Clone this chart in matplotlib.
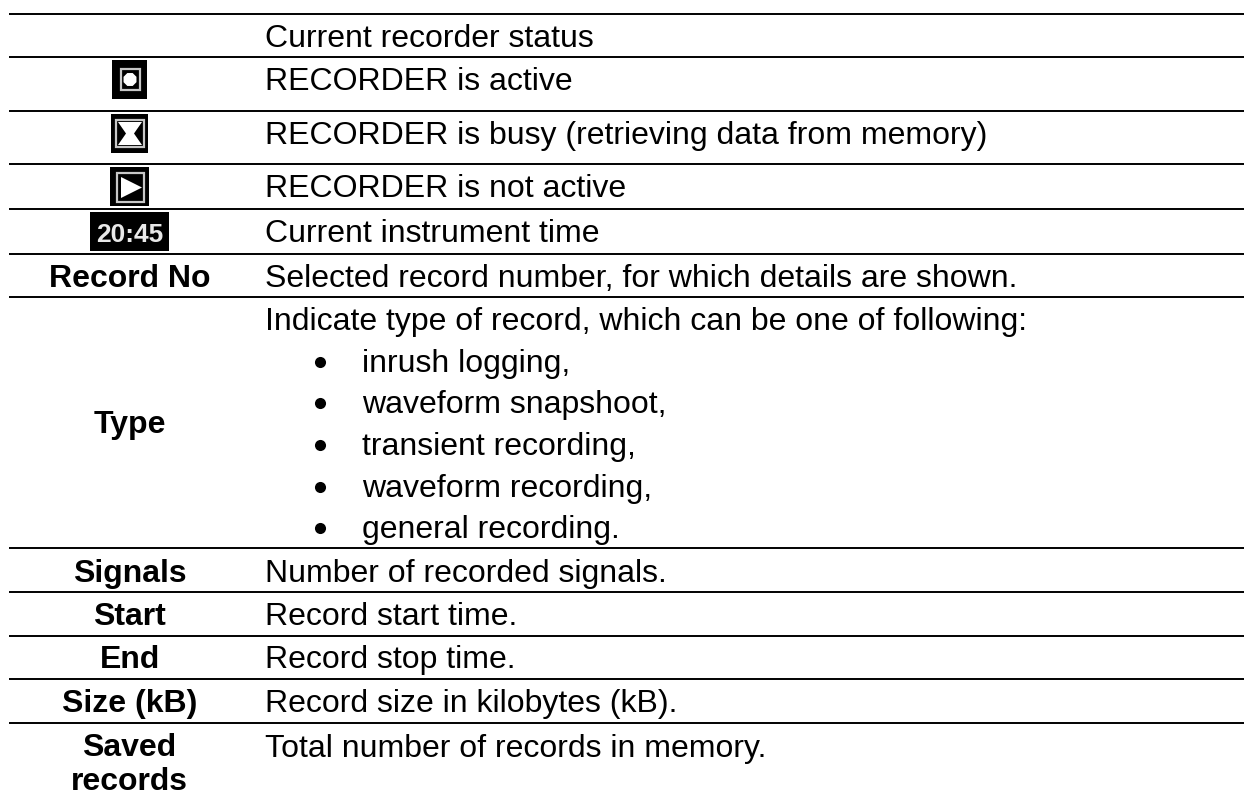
#!/usr/bin/env python3
# -*- coding: utf-8 -*-

import matplotlib
matplotlib.use('Agg')
import matplotlib.pyplot as plt
from matplotlib.patches import Rectangle, Polygon, RegularPolygon

# table content
row_labels = ['', '', '', '', '', 'Record No', 'Type', 'Signals', 'Start', 'End', 'Size (kB)', 'Saved\nrecords']
row_texts = ['Current recorder status',
             'RECORDER is active',
             'RECORDER is busy (retrieving data from memory)',
             'RECORDER is not active',
             'Current instrument time',
             'Selected record number, for which details are shown.',
             'Indicate type of record, which can be one of following:',
             'Number of recorded signals.',
             'Record start time.',
             'Record stop time.',
             'Record size in kilobytes (kB).',
             'Total number of records in memory.']
type_items = ['inrush logging,', 'waveform snapshoot,', 'transient recording,', 'waveform recording,', 'general recording.']
clock_text = '20:45'

# layout, in pixels of the picture
rule_ys = [14, 57, 110.5, 164, 209, 253.5, 297, 548, 592, 636, 678.5, 723]
text_baselines = [47, 90, 144, 197, 242, 287, 330, 582, 625, 668, 712, 757]
item_baselines = [372, 413, 455, 497, 538]
label_baselines = {'Record No': 287, 'Type': 433, 'Signals': 582, 'Start': 625, 'End': 668, 'Size (kB)': 712}

fig = plt.figure(figsize=(12.44, 7.95), dpi=100)
ax = fig.add_axes([0, 0, 1, 1])
ax.set_xlim(0, 1244)
ax.set_ylim(795, 0)
ax.axis('off')

fsize = 23
font = 'Liberation Sans'
col1 = 129.5

for y in rule_ys:
    ax.plot([9, 1244], [y, y], color='black', lw=1.4, solid_capstyle='butt')

for text, y in zip(row_texts, text_baselines):
    ax.text(265, y, text, family=font, fontsize=fsize, color='black', ha='left', va='baseline')

for item, y in zip(type_items, item_baselines):
    ax.plot([320], [y - 10], marker='o', ms=8, color='black', mew=0)
    ax.text(362, y, item, family=font, fontsize=fsize, color='black', ha='left', va='baseline')

for label in row_labels:
    if label in label_baselines:
        ax.text(col1, label_baselines[label], label, family=font, fontsize=fsize, fontweight='bold', color='black', ha='center', va='baseline')
ax.text(col1, 756, row_labels[-1].split('\n')[0], family=font, fontsize=fsize, fontweight='bold', ha='center', va='baseline')
ax.text(col1, 790, row_labels[-1].split('\n')[1], family=font, fontsize=fsize, fontweight='bold', ha='center', va='baseline')


def icon_box(x0, y0, x1, y1, fx0, fy0, fx1, fy1):
    ax.add_patch(Rectangle((x0, y0), x1 - x0, y1 - y0, facecolor='black', edgecolor='none'))
    ax.add_patch(Rectangle((fx0, fy0), fx1 - fx0, fy1 - fy0, facecolor='none', edgecolor='#c8c8c8', lw=1.6))


# recorder active
icon_box(112, 60, 147, 99, 121, 69, 140, 90)
ax.add_patch(RegularPolygon((130, 79.5), 8, radius=7, orientation=0.39, facecolor='white', edgecolor='none'))

# recorder busy
icon_box(111, 114, 148, 153, 116, 120, 144, 147)
ax.add_patch(Polygon([(118, 122), (142, 122), (134, 133.5), (142, 145), (118, 145), (126, 133.5)], facecolor='white', edgecolor='none'))

# recorder not active
icon_box(110, 167, 149, 206, 117, 173, 144, 202)
ax.add_patch(Polygon([(121, 177), (121, 198), (142, 187.5)], facecolor='white', edgecolor='none'))

# clock
ax.add_patch(Rectangle((90, 212), 79, 39, facecolor='black', edgecolor='none'))
ax.text(col1, 242, clock_text, family=font, fontsize=19, fontweight='bold', color='#e8e8e8', ha='center', va='baseline')

fig.savefig('out.png', dpi=100)
plt.close(fig)
